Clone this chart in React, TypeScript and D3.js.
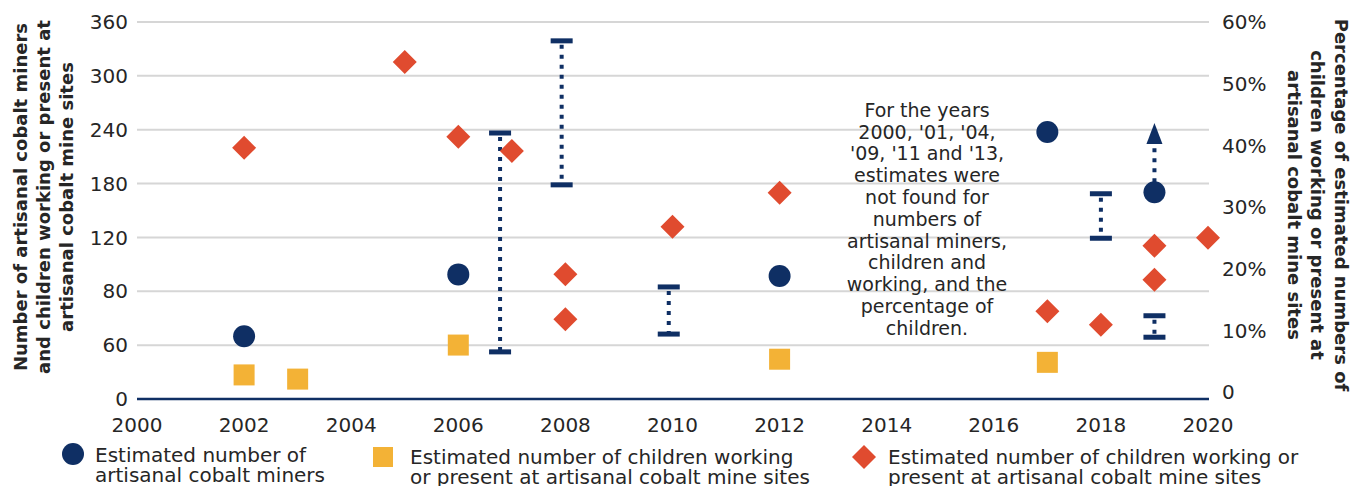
import React from "react";
import * as d3 from "d3";

const W = 1352;
const H = 486;

// left axis (numbers), tick labels as printed
const leftTickLabels = ["0", "60", "80", "120", "180", "240", "300", "360"];
const rightTickValues = [0, 10, 20, 30, 40, 50, 60];
const xTickYears = [2000, 2002, 2004, 2006, 2008, 2010, 2012, 2014, 2016, 2018, 2020];

// Estimated number of artisanal cobalt miners (left scale units)
const minerYears = [2002, 2006, 2012, 2017, 2019];
const minerValues = [60, 119, 117.5, 255, 197.5];

// Estimated number of children working (left scale units)
const childYears = [2002, 2003, 2006, 2012, 2017];
const childValues = [23, 19, 51.5, 38, 35];

// Percentage of children (right axis, %)
const pctYears = [2002, 2005, 2006, 2007, 2008, 2008, 2010, 2012, 2017, 2018, 2019, 2019, 2020];
const pctValues = [39.6, 53.5, 41.4, 39.1, 19.1, 11.8, 26.8, 32.3, 13.1, 10.9, 23.7, 18.2, 25.0];

// Ranges (left scale units)
const rangeYears = [2006.78, 2007.93, 2009.93, 2018, 2019];
const rangeLow = [45, 204.5, 62, 153.5, 59];
const rangeHigh = [254, 342, 107, 196, 79.5];

// Open-ended estimate (arrow)
const arrowYear = 2019;
const arrowFrom = 197.5;
const arrowTo = 263.5;

const annotationLines = [
  "For the years",
  "2000, '01, '04,",
  "'09, '11 and '13,",
  "estimates were",
  "not found for",
  "numbers of",
  "artisanal miners,",
  "children and",
  "working, and the",
  "percentage of",
  "children.",
];

const leftTitle = ["Number of artisanal cobalt miners", "and children working or present at", "artisanal cobalt mine sites"];
const rightTitle = ["Percentage of estimated numbers of", "children working or present at", "artisanal cobalt mine sites"];

const NAVY = "#0f2f64";
const ORANGE = "#e04b2f";
const YELLOW = "#f3b236";
const GRID = "#d6d6d6";
const TEXT = "#262626";
const FONT = "'DejaVu Sans', sans-serif";

export default function App() {
  const x = d3.scaleLinear().domain([2000, 2020]).range([137, 1208]);
  const yL = d3.scaleLinear().domain([0, 360]).range([399, 22]);
  const yR = d3.scaleLinear().domain([0, 60]).range([392, 22]);
  const leftTickVals = leftTickLabels.map((_, i) => (i * 360) / 7);

  const diamondPath = (cx: number, cy: number, r: number) =>
    `M${cx},${cy - r}L${cx + r},${cy}L${cx},${cy + r}L${cx - r},${cy}Z`;

  return (
    <svg width={W} height={H} style={{ display: "block", position: "absolute", left: 0, top: 0 }} fontFamily={FONT}>
      <rect width={W} height={H} fill="#fff" />
      {/* gridlines */}
      {leftTickVals.map((v, i) =>
        i === 0 ? null : (
          <line key={"g" + i} x1={x(2000)} x2={x(2020) + 1} y1={yL(v)} y2={yL(v)} stroke={GRID} strokeWidth={2} />
        )
      )}
      {/* baseline */}
      <line x1={x(2000)} x2={x(2020) + 1} y1={yL(0)} y2={yL(0)} stroke={NAVY} strokeWidth={2.5} />

      {/* left ticks */}
      {leftTickVals.map((v, i) => (
        <text key={"lt" + i} x={128} y={yL(v)} dy="0.36em" textAnchor="end" fontSize={20} fill={TEXT}>
          {leftTickLabels[i]}
        </text>
      ))}
      {/* right ticks */}
      {rightTickValues.map((v) => (
        <text key={"rt" + v} x={1222} y={yR(v)} dy="0.36em" textAnchor="start" fontSize={20} fill={TEXT}>
          {v === 0 ? "0" : v + "%"}
        </text>
      ))}
      {/* x ticks */}
      {xTickYears.map((yr) => (
        <text key={"xt" + yr} x={x(yr)} y={424.5} dy="0.36em" textAnchor="middle" fontSize={20} fill={TEXT}>
          {yr}
        </text>
      ))}

      {/* left axis title */}
      <g transform="translate(21,197) rotate(-90)">
        {leftTitle.map((t, i) => (
          <text key={t} x={0} y={i * 23} dy="0.36em" textAnchor="middle" fontSize={18} fontWeight={700} fill={TEXT}>
            {t}
          </text>
        ))}
      </g>
      {/* right axis title */}
      <g transform="translate(1341,205) rotate(90)">
        {rightTitle.map((t, i) => (
          <text key={t} x={0} y={i * 23.5} dy="0.36em" textAnchor="middle" fontSize={18} fontWeight={700} fill={TEXT}>
            {t}
          </text>
        ))}
      </g>

      {/* ranges */}
      {rangeYears.map((yr, i) => {
        const cx = x(yr);
        const y1 = yL(rangeHigh[i]);
        const y2 = yL(rangeLow[i]);
        return (
          <g key={"r" + i}>
            <line x1={cx} x2={cx} y1={y1 + 4} y2={y2 - 2} stroke={NAVY} strokeWidth={4} strokeDasharray="4 6" />
            <rect x={cx - 11} y={y1 - 2.5} width={22} height={5} fill={NAVY} />
            <rect x={cx - 11} y={y2 - 2.5} width={22} height={5} fill={NAVY} />
          </g>
        );
      })}
      {/* arrow */}
      <g>
        <line
          x1={x(arrowYear)}
          x2={x(arrowYear)}
          y1={yL(arrowFrom) - 10}
          y2={yL(arrowTo) + 20}
          stroke={NAVY}
          strokeWidth={4}
          strokeDasharray="4 6"
        />
        <path
          d={`M${x(arrowYear)},${yL(arrowTo)}L${x(arrowYear) + 8},${yL(arrowTo) + 21}L${x(arrowYear) - 8},${yL(arrowTo) + 21}Z`}
          fill={NAVY}
        />
      </g>

      {/* squares */}
      {childYears.map((yr, i) => (
        <rect key={"s" + i} x={x(yr) - 10.5} y={yL(childValues[i]) - 10.5} width={21} height={21} fill={YELLOW} />
      ))}
      {/* circles */}
      {minerYears.map((yr, i) => (
        <circle key={"c" + i} cx={x(yr)} cy={yL(minerValues[i])} r={11} fill={NAVY} />
      ))}
      {/* diamonds */}
      {pctYears.map((yr, i) => (
        <path key={"d" + i} d={diamondPath(x(yr), yR(pctValues[i]), 12)} fill={ORANGE} />
      ))}

      {/* annotation */}
      {annotationLines.map((t, i) => (
        <text key={"a" + i} x={927} y={110 + i * 21.8} dy="0.36em" textAnchor="middle" fontSize={19} fill={TEXT}>
          {t}
        </text>
      ))}

      {/* legend */}
      <circle cx={73} cy={454} r={11} fill={NAVY} />
      <text x={95} y={462} fontSize={20} fill={TEXT}>Estimated number of</text>
      <text x={95} y={482} fontSize={20} fill={TEXT}>artisanal cobalt miners</text>

      <rect x={373} y={447} width={20} height={20} fill={YELLOW} />
      <text x={410} y={464} fontSize={20} fill={TEXT}>Estimated number of children working</text>
      <text x={410} y={484} fontSize={20} fill={TEXT}>or present at artisanal cobalt mine sites</text>

      <path d={diamondPath(864, 457, 12)} fill={ORANGE} />
      <text x={888} y={464} fontSize={20} fill={TEXT}>Estimated number of children working or</text>
      <text x={888} y={484} fontSize={20} fill={TEXT}>present at artisanal cobalt mine sites</text>
    </svg>
  );
}
